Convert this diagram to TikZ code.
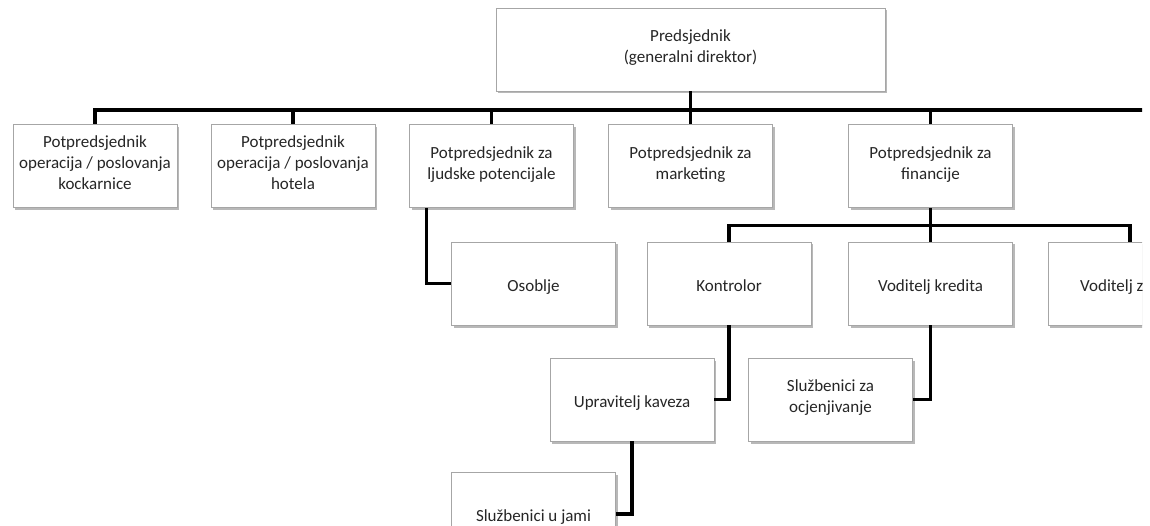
\documentclass[tikz,border=0pt]{standalone}
\usepackage{fontspec}
\setmainfont{Carlito}
\usetikzlibrary{shadows}
\definecolor{boxline}{HTML}{A6A6A6}
\definecolor{txt}{HTML}{262626}
\tikzset{
  orgbox/.style={draw=boxline, line width=0.8pt, fill=white, minimum width=164pt, minimum height=83pt,
    inner sep=0pt, align=center, text=txt, font=\fontsize{17}{21}\selectfont,
    execute at begin node={\rule{0pt}{21.5pt}}, execute at end node={\rule[-6pt]{0pt}{6pt}},
    drop shadow={shadow xshift=2pt, shadow yshift=-2.5pt, opacity=0.28, fill=black}},
  link/.style={draw=black, line width=3.2pt},
  lbl/.style={inner sep=0pt, text=txt, font=\fontsize{17}{21}\selectfont}
}
\begin{document}
\begin{tikzpicture}[x=1pt, y=-1pt]
\useasboundingbox (0,0) rectangle (1150,526);
\begin{scope}
\clip (0,0) rectangle (1142,526);
% nodes
\node[orgbox, minimum width=389pt] (top) at (690.5,49.5) {Predsjednik\\(generalni direktor)};
\node[orgbox] (b1) at (95,166) {Potpredsjednik\\operacija / poslovanja\\kockarnice};
\node[orgbox] (b2) at (293,166) {Potpredsjednik\\operacija / poslovanja\\hotela};
\node[orgbox] (b3) at (491.5,166) {Potpredsjednik za\\ljudske potencijale};
\node[orgbox] (b4) at (690.5,166) {Potpredsjednik za\\marketing};
\node[orgbox] (b5) at (930.5,166) {Potpredsjednik za\\financije};
\node[orgbox] (osoblje) at (533.5,283.5) {Osoblje};
\node[orgbox] (kontrolor) at (729,283.5) {Kontrolor};
\node[orgbox] (kredita) at (930.5,283.5) {Voditelj kredita};
\node[orgbox] (vz) at (1130,283.5) {};
\node[lbl, anchor=base west] (vzt) at (1080,291) {Voditelj z};
\node[orgbox] (upr) at (632,399.5) {Upravitelj kaveza};
\node[orgbox] (ocj) at (830.5,399.5) {Službenici za\\ocjenjivanje};
\node[orgbox] (jami) at (533.5,514) {Službenici u jami};
% bus coordinates
\coordinate (busL) at (95,110);
\coordinate (busR) at (1150,110);
\coordinate (fbus) at (0,225.5);
% connectors
\draw[link] (top.south) -- (top.south |- busL);
\draw[link] ([xshift=-1.6pt]busL) -- (busR);
\draw[link] (b1.north |- busL) -- (b1.north);
\draw[link] (b2.north |- busL) -- (b2.north);
\draw[link] (b3.north |- busL) -- (b3.north);
\draw[link] (b4.north |- busL) -- (b4.north);
\draw[link] (b5.north |- busL) -- (b5.north);
\draw[link] ([xshift=17pt]b3.south west) |- (osoblje.west);
\draw[link] (b5.south) -- (kredita.north);
\draw[link] (kontrolor.north) -- (kontrolor.north |- fbus) -- (vz.north |- fbus) -- (vz.north);
\draw[link] (kontrolor.south) |- (upr.east);
\draw[link] (kredita.south) |- (ocj.east);
\draw[link] (upr.south) |- (jami.east);
\end{scope}
\end{tikzpicture}
\end{document}
